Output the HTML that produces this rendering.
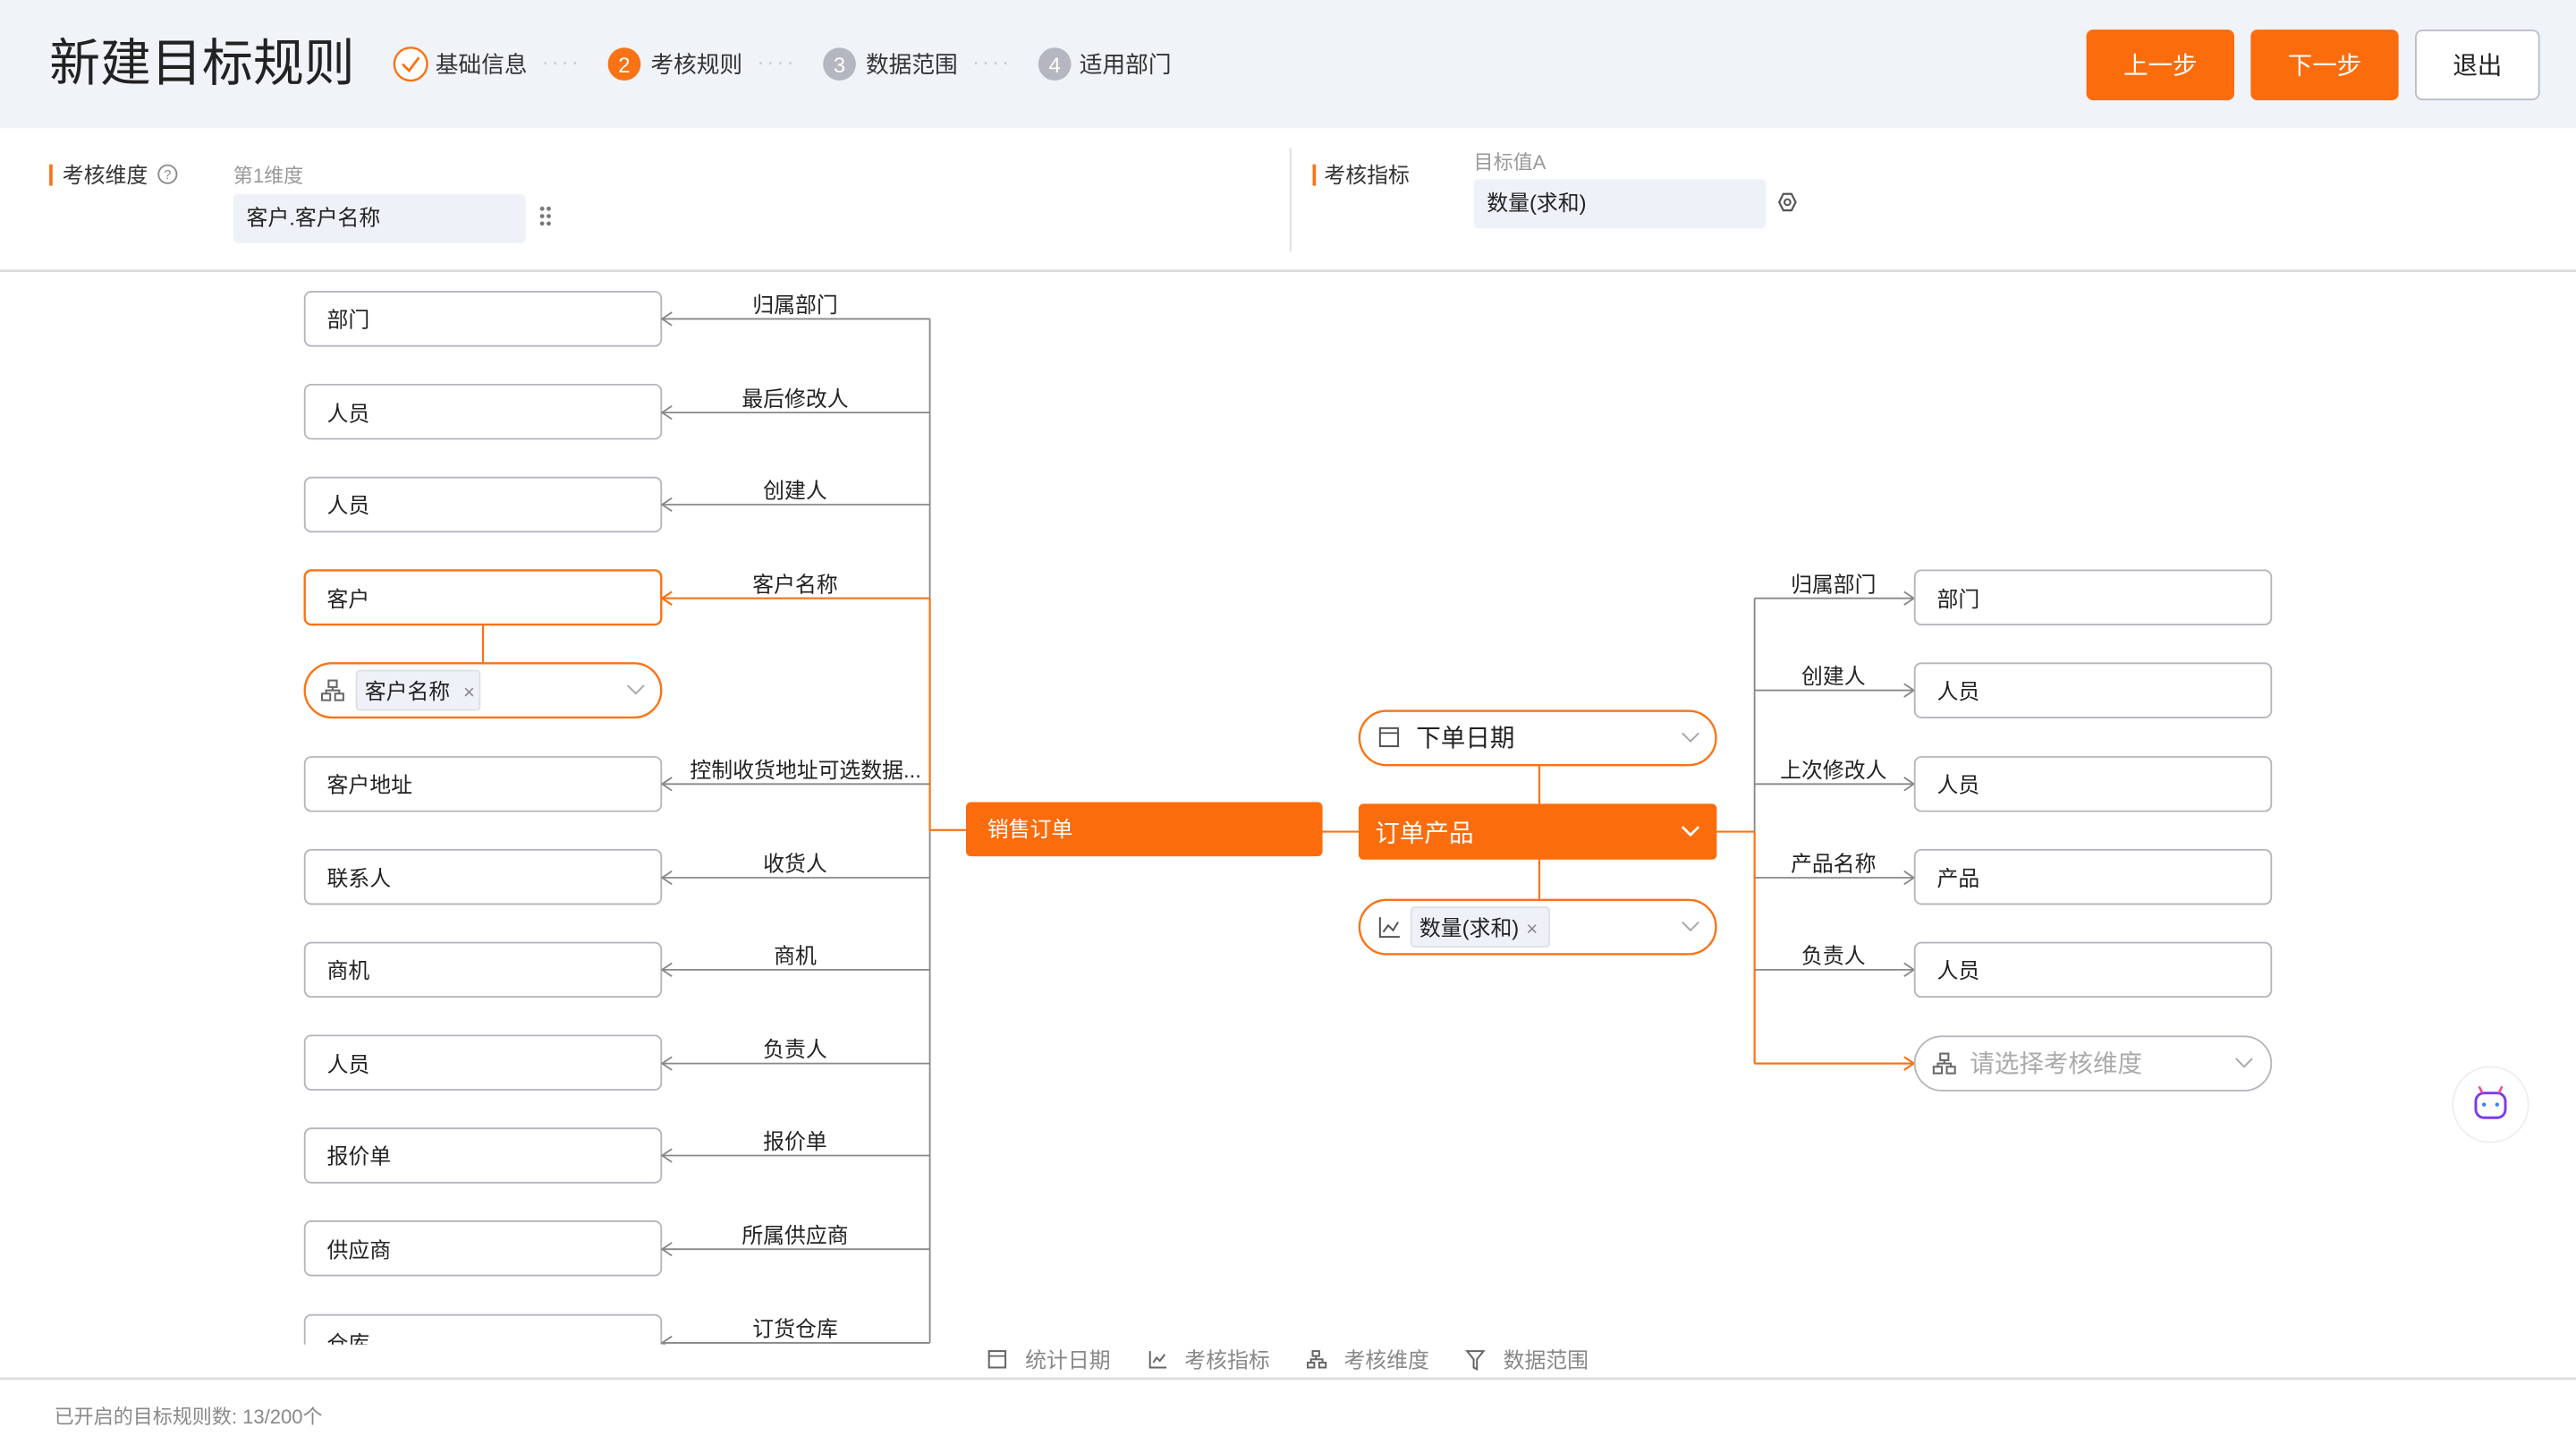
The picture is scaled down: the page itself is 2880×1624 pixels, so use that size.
<!DOCTYPE html>
<html><head><meta charset="utf-8"><style>
html,body{margin:0;padding:0;background:#fff;}
svg{display:block}
text{font-family:"Liberation Sans","Noto Sans CJK SC",sans-serif;}
</style></head><body>
<svg width="2880" height="1624" viewBox="0 0 1568 884" preserveAspectRatio="none" xmlns="http://www.w3.org/2000/svg">
<defs>
<clipPath id="dg"><rect x="0" y="165" width="1568" height="653"/></clipPath>
<marker id="rg" markerWidth="10" markerHeight="10" refX="9" refY="5" orient="auto" markerUnits="userSpaceOnUse"><path d="M3,1 L9,5 L3,9" fill="none" stroke="#888" stroke-width="1"/></marker>
<marker id="ro" markerWidth="10" markerHeight="10" refX="9" refY="5" orient="auto" markerUnits="userSpaceOnUse"><path d="M3,1 L9,5 L3,9" fill="none" stroke="#f97316" stroke-width="1.2"/></marker>
</defs>
<rect x="0" y="0" width="1568" height="78" fill="#f0f3f8"/>
<text x="30" y="49" font-size="31" fill="#222">新建目标规则</text>
<circle cx="250" cy="39" r="10" fill="#fff" stroke="#f97316" stroke-width="1.3"/>
<path d="M245,39 L249,43 L255,35" fill="none" stroke="#f97316" stroke-width="1.5"/>
<text x="265" y="44" font-size="14" fill="#333">基础信息</text>
<text x="330" y="42" font-size="12" fill="#c0c4cc" letter-spacing="2">····</text>
<circle cx="380" cy="39" r="10" fill="#f97316"/>
<text x="380" y="44" font-size="13" fill="#fff" text-anchor="middle">2</text>
<text x="396" y="44" font-size="14" fill="#333">考核规则</text>
<text x="461" y="42" font-size="12" fill="#c0c4cc" letter-spacing="2">····</text>
<circle cx="511" cy="39" r="10" fill="#b4b7bf"/>
<text x="511" y="44" font-size="13" fill="#fff" text-anchor="middle">3</text>
<text x="527" y="44" font-size="14" fill="#333">数据范围</text>
<text x="592" y="42" font-size="12" fill="#c0c4cc" letter-spacing="2">····</text>
<circle cx="642" cy="39" r="10" fill="#b4b7bf"/>
<text x="642" y="44" font-size="13" fill="#fff" text-anchor="middle">4</text>
<text x="657" y="44" font-size="14" fill="#333">适用部门</text>
<rect x="1270" y="18" width="90" height="43" rx="4" fill="#fa6c0c"/>
<text x="1315" y="45" font-size="15" fill="#fff" text-anchor="middle">上一步</text>
<rect x="1370" y="18" width="90" height="43" rx="4" fill="#fa6c0c"/>
<text x="1415" y="45" font-size="15" fill="#fff" text-anchor="middle">下一步</text>
<rect x="1470.5" y="18.5" width="75" height="42" rx="4" fill="#fff" stroke="#b9bcc5"/>
<text x="1508" y="45" font-size="15" fill="#222" text-anchor="middle">退出</text>
<rect x="30" y="100" width="2" height="13" fill="#f97316"/>
<text x="38" y="111" font-size="13" fill="#333">考核维度</text>
<circle cx="102" cy="106" r="5.5" fill="none" stroke="#888"/>
<text x="102" y="109" font-size="8" fill="#888" text-anchor="middle">?</text>
<text x="142" y="111" font-size="12" fill="#999">第1维度</text>
<rect x="142" y="118" width="178" height="30" rx="3" fill="#eef1f8"/>
<text x="150" y="137" font-size="13" fill="#222">客户.客户名称</text>
<g fill="#777"><circle cx="330" cy="127" r="1.3"/><circle cx="334" cy="127" r="1.3"/><circle cx="330" cy="131.5" r="1.3"/><circle cx="334" cy="131.5" r="1.3"/><circle cx="330" cy="136" r="1.3"/><circle cx="334" cy="136" r="1.3"/></g>
<rect x="785" y="90" width="1" height="63" fill="#ddd"/>
<rect x="799" y="100" width="2" height="13" fill="#f97316"/>
<text x="806" y="111" font-size="13" fill="#333">考核指标</text>
<text x="897" y="103" font-size="12" fill="#999">目标值A</text>
<rect x="897" y="109" width="178" height="30" rx="3" fill="#eef1f8"/>
<text x="905" y="128" font-size="13" fill="#222">数量(求和)</text>
<path d="M1083,123 L1085.5,118 L1090.5,118 L1093,123 L1090.5,128 L1085.5,128 Z" fill="none" stroke="#555" stroke-width="1.2"/>
<circle cx="1088" cy="123" r="1.8" fill="none" stroke="#555" stroke-width="1.1"/>
<rect x="0" y="164" width="1568" height="1.5" fill="#ddd"/>
<g clip-path="url(#dg)">
<line x1="566" y1="194" x2="566" y2="364" stroke="#888"/>
<line x1="566" y1="505" x2="566" y2="817" stroke="#888"/>
<line x1="566" y1="364" x2="566" y2="505" stroke="#f97316" stroke-width="1.2"/>
<line x1="566" y1="505" x2="588" y2="505" stroke="#f97316" stroke-width="1.2"/>
<g font-size="13" fill="#222">
<rect x="185.5" y="177.5" width="217" height="33" rx="4" fill="#fff" stroke="#b4b6bd"/>
<line x1="566" y1="194" x2="403" y2="194" stroke="#888" marker-end="url(#rg)"/>
<text x="199" y="199">部门</text><text x="484" y="190" text-anchor="middle">归属部门</text>
<rect x="185.5" y="234" width="217" height="33" rx="4" fill="#fff" stroke="#b4b6bd"/>
<line x1="566" y1="251" x2="403" y2="251" stroke="#888" marker-end="url(#rg)"/>
<text x="199" y="256">人员</text><text x="484" y="247" text-anchor="middle">最后修改人</text>
<rect x="185.5" y="290.5" width="217" height="33" rx="4" fill="#fff" stroke="#b4b6bd"/>
<line x1="566" y1="307" x2="403" y2="307" stroke="#888" marker-end="url(#rg)"/>
<text x="199" y="312">人员</text><text x="484" y="303" text-anchor="middle">创建人</text>
<line x1="294" y1="380" x2="294" y2="404" stroke="#f97316" stroke-width="1.2"/>
<rect x="185.5" y="347" width="217" height="33" rx="4" fill="#fff" stroke="#f97316" stroke-width="1.3"/>
<line x1="566" y1="364" x2="403" y2="364" stroke="#f97316" stroke-width="1.2" marker-end="url(#ro)"/>
<text x="199" y="369">客户</text><text x="484" y="360" text-anchor="middle">客户名称</text>
<rect x="185.5" y="403.5" width="217" height="33" rx="16.5" fill="#fff" stroke="#f97316" stroke-width="1.3"/>
<g fill="none" stroke="#666" stroke-width="1.1"><rect x="200" y="414" width="5" height="4"/><rect x="196" y="422" width="5" height="4"/><rect x="204" y="422" width="5" height="4"/><path d="M202.5,418 V420 M198.5,422 V420 H206.5 V422"/></g>
<rect x="217" y="408" width="75" height="24" rx="2" fill="#eef1f8" stroke="#dde0e8"/>
<text x="222" y="425">客户名称</text>
<text x="282" y="425" font-size="12" fill="#888">×</text>
<path d="M382,417 L387,422 L392,417" fill="none" stroke="#aaa" stroke-width="1.1"/>
<rect x="185.5" y="460.5" width="217" height="33" rx="4" fill="#fff" stroke="#b4b6bd"/>
<line x1="566" y1="477" x2="403" y2="477" stroke="#888" marker-end="url(#rg)"/>
<text x="199" y="482">客户地址</text><text x="420" y="473">控制收货地址可选数据...</text>
<rect x="185.5" y="517" width="217" height="33" rx="4" fill="#fff" stroke="#b4b6bd"/>
<line x1="566" y1="534" x2="403" y2="534" stroke="#888" marker-end="url(#rg)"/>
<text x="199" y="539">联系人</text><text x="484" y="530" text-anchor="middle">收货人</text>
<rect x="185.5" y="573.5" width="217" height="33" rx="4" fill="#fff" stroke="#b4b6bd"/>
<line x1="566" y1="590" x2="403" y2="590" stroke="#888" marker-end="url(#rg)"/>
<text x="199" y="595">商机</text><text x="484" y="586" text-anchor="middle">商机</text>
<rect x="185.5" y="630" width="217" height="33" rx="4" fill="#fff" stroke="#b4b6bd"/>
<line x1="566" y1="647" x2="403" y2="647" stroke="#888" marker-end="url(#rg)"/>
<text x="199" y="652">人员</text><text x="484" y="643" text-anchor="middle">负责人</text>
<rect x="185.5" y="686.5" width="217" height="33" rx="4" fill="#fff" stroke="#b4b6bd"/>
<line x1="566" y1="703" x2="403" y2="703" stroke="#888" marker-end="url(#rg)"/>
<text x="199" y="708">报价单</text><text x="484" y="699" text-anchor="middle">报价单</text>
<rect x="185.5" y="743" width="217" height="33" rx="4" fill="#fff" stroke="#b4b6bd"/>
<line x1="566" y1="760" x2="403" y2="760" stroke="#888" marker-end="url(#rg)"/>
<text x="199" y="765">供应商</text><text x="484" y="756" text-anchor="middle">所属供应商</text>
<rect x="185.5" y="800" width="217" height="33" rx="4" fill="#fff" stroke="#b4b6bd"/>
<line x1="566" y1="817" x2="403" y2="817" stroke="#888" marker-end="url(#rg)"/>
<text x="199" y="822">仓库</text><text x="484" y="813" text-anchor="middle">订货仓库</text>
</g>
<rect x="588" y="488" width="217" height="33" rx="3" fill="#fa6c0c"/>
<text x="601" y="509" font-size="13" fill="#fff">销售订单</text>
<line x1="805" y1="506" x2="827" y2="506" stroke="#f97316" stroke-width="1.2"/>
<line x1="937" y1="465" x2="937" y2="489" stroke="#f97316" stroke-width="1.2"/>
<line x1="937" y1="523" x2="937" y2="547" stroke="#f97316" stroke-width="1.2"/>
<rect x="827.5" y="432.5" width="217" height="33" rx="16.5" fill="#fff" stroke="#f97316" stroke-width="1.3"/>
<rect x="840" y="443" width="11" height="11" fill="none" stroke="#555" stroke-width="1.1"/><line x1="840" y1="446" x2="851" y2="446" stroke="#555"/>
<text x="862" y="454" font-size="15" fill="#222">下单日期</text>
<path d="M1024,446 L1029,451 L1034,446" fill="none" stroke="#aaa" stroke-width="1.1"/>
<rect x="827" y="489" width="218" height="34" rx="3" fill="#fa6c0c"/>
<text x="837" y="512" font-size="15" fill="#fff">订单产品</text>
<path d="M1024,503 L1029,508 L1034,503" fill="none" stroke="#fff" stroke-width="1.5"/>
<rect x="827.5" y="547.5" width="217" height="33" rx="16.5" fill="#fff" stroke="#f97316" stroke-width="1.3"/>
<path d="M840,558 V570 H852 M842,567 L845,563 L848,566 L851,561" fill="none" stroke="#555" stroke-width="1.1"/>
<rect x="859" y="552" width="84" height="24" rx="2" fill="#eef1f8" stroke="#dde0e8"/>
<text x="864" y="569" font-size="13" fill="#222">数量(求和)</text>
<text x="929" y="569" font-size="12" fill="#888">×</text>
<path d="M1024,561 L1029,566 L1034,561" fill="none" stroke="#aaa" stroke-width="1.1"/>
<line x1="1045" y1="506" x2="1068" y2="506" stroke="#f97316" stroke-width="1.2"/>
<line x1="1068" y1="364" x2="1068" y2="506" stroke="#888"/>
<line x1="1068" y1="506" x2="1068" y2="647" stroke="#f97316" stroke-width="1.2"/>
<g font-size="13" fill="#222">
<line x1="1068" y1="364" x2="1165" y2="364" stroke="#888" marker-end="url(#rg)"/>
<rect x="1165.5" y="347" width="217" height="33" rx="4" fill="#fff" stroke="#b4b6bd"/>
<text x="1179" y="369">部门</text><text x="1116" y="360" text-anchor="middle">归属部门</text>
<line x1="1068" y1="420" x2="1165" y2="420" stroke="#888" marker-end="url(#rg)"/>
<rect x="1165.5" y="403.5" width="217" height="33" rx="4" fill="#fff" stroke="#b4b6bd"/>
<text x="1179" y="425">人员</text><text x="1116" y="416" text-anchor="middle">创建人</text>
<line x1="1068" y1="477" x2="1165" y2="477" stroke="#888" marker-end="url(#rg)"/>
<rect x="1165.5" y="460.5" width="217" height="33" rx="4" fill="#fff" stroke="#b4b6bd"/>
<text x="1179" y="482">人员</text><text x="1116" y="473" text-anchor="middle">上次修改人</text>
<line x1="1068" y1="534" x2="1165" y2="534" stroke="#888" marker-end="url(#rg)"/>
<rect x="1165.5" y="517" width="217" height="33" rx="4" fill="#fff" stroke="#b4b6bd"/>
<text x="1179" y="539">产品</text><text x="1116" y="530" text-anchor="middle">产品名称</text>
<line x1="1068" y1="590" x2="1165" y2="590" stroke="#888" marker-end="url(#rg)"/>
<rect x="1165.5" y="573.5" width="217" height="33" rx="4" fill="#fff" stroke="#b4b6bd"/>
<text x="1179" y="595">人员</text><text x="1116" y="586" text-anchor="middle">负责人</text>
<line x1="1068" y1="647" x2="1165" y2="647" stroke="#f97316" stroke-width="1.2" marker-end="url(#ro)"/>
<rect x="1165.5" y="630.5" width="217" height="33" rx="16.5" fill="#fff" stroke="#b4b6bd"/>
<g fill="none" stroke="#666" stroke-width="1.1"><rect x="1181" y="641" width="5" height="4"/><rect x="1177" y="649" width="5" height="4"/><rect x="1185" y="649" width="5" height="4"/><path d="M1183.5,645 V647 M1179.5,649 V647 H1187.5 V649"/></g>
<text x="1199" y="652" font-size="15" fill="#aaa">请选择考核维度</text>
<path d="M1361,644 L1366,649 L1371,644" fill="none" stroke="#aaa" stroke-width="1.1"/>
</g>
</g>
<circle cx="1516" cy="672" r="23" fill="#fff" stroke="#eee"/>
<rect x="1507" y="665" width="18" height="15" rx="5" fill="none" stroke="#7c3aed" stroke-width="1.6"/>
<line x1="1511" y1="665" x2="1509" y2="661" stroke="#ec4899" stroke-width="1.4"/><line x1="1521" y1="665" x2="1523" y2="661" stroke="#ec4899" stroke-width="1.4"/>
<circle cx="1512" cy="672" r="1.2" fill="#3b82f6"/><circle cx="1520" cy="672" r="1.2" fill="#3b82f6"/>
<g font-size="13" fill="#888">
<rect x="602" y="822" width="10" height="10" fill="none" stroke="#666" stroke-width="1.1"/><line x1="602" y1="825" x2="612" y2="825" stroke="#666"/>
<text x="624" y="832">统计日期</text>
<path d="M700,822 V832 H710 M702,829 L704,826 L706,828 L709,824" fill="none" stroke="#666" stroke-width="1.1"/>
<text x="721" y="832">考核指标</text>
<g fill="none" stroke="#666" stroke-width="1.1"><rect x="799" y="822" width="4" height="3"/><rect x="796" y="829" width="4" height="3"/><rect x="803" y="829" width="4" height="3"/><path d="M801,825 V827 M798,829 V827 H805 V829"/></g>
<text x="818" y="832">考核维度</text>
<path d="M893,822 H903 L899,827 V833 L897,832 V827 Z" fill="none" stroke="#666" stroke-width="1.1"/>
<text x="915" y="832">数据范围</text>
</g>
<rect x="0" y="838" width="1568" height="1.5" fill="#ddd"/>
<text x="33" y="866" font-size="12" fill="#888">已开启的目标规则数: 13/200个</text>
</svg>
</body></html>
